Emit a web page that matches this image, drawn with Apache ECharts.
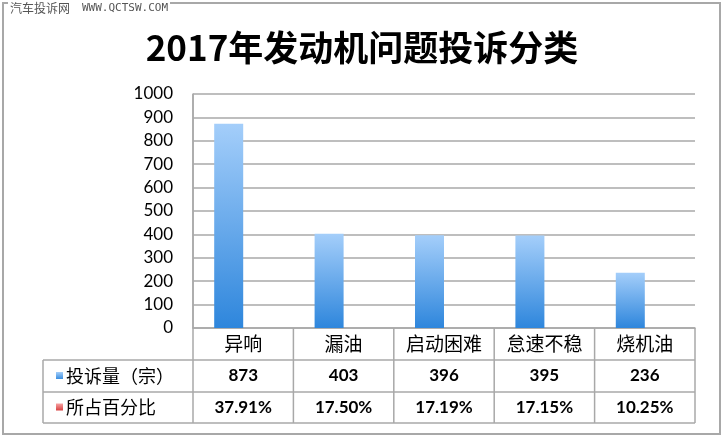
<!DOCTYPE html>
<html><head><meta charset="utf-8">
<script src="https://cdn.jsdelivr.net/npm/echarts@6/dist/echarts.min.js"></script>
<style>html,body{margin:0;padding:0;background:#fff}#c{width:724px;height:437px}</style>
</head><body><div id="c"></div>
<script>
const titleText = '2017年发动机问题投诉分类';
const watermarkCn = '汽车投诉网';
const watermarkUrl = 'WWW.QCTSW.COM';
const categories = ['异响', '漏油', '启动困难', '怠速不稳', '烧机油'];
const seriesNames = ['投诉量（宗）', '所占百分比'];
const complaints = [873, 403, 396, 395, 236];
const shares = [37.91, 17.50, 17.19, 17.15, 10.25];
const yMin = 0, yMax = 1000, yStep = 100;

const CJK = '"Noto Sans CJK SC", sans-serif';
const NUM = 'Lato, "Noto Sans", sans-serif';
const GRID = { left: 193, right: 29, top: 94, bottom: 109 };
const ROW = [328, 360, 392, 423];
const TABLE_LEFT = 43;
const LINE = '#a8a8a8';

const chart = echarts.init(document.getElementById('c'), null, { renderer: 'canvas' });
chart.setOption({
  animation: false,
  backgroundColor: '#fff',
  title: {
    text: titleText, left: 'center', top: 25,
    textStyle: { fontFamily: CJK, fontSize: 35, fontWeight: 'bold', color: '#000' }
  },
  grid: GRID,
  xAxis: {
    type: 'category', data: categories,
    axisLine: { show: true, lineStyle: { color: LINE, width: 1.5 } },
    axisTick: { show: false },
    axisLabel: { fontFamily: CJK, fontSize: 19, color: '#000', margin: 16, verticalAlign: 'middle' }
  },
  yAxis: {
    type: 'value', min: yMin, max: yMax, interval: yStep,
    axisLine: { show: true, lineStyle: { color: LINE, width: 1.5 } },
    axisTick: { show: false },
    axisLabel: { fontFamily: NUM, fontSize: 17, color: '#000', margin: 20, formatter: v => String(v) },
    splitLine: { lineStyle: { color: LINE, width: 1.5 } }
  },
  series: [
    {
      name: seriesNames[0], type: 'bar', data: complaints, barWidth: 29, barGap: '0%',
      itemStyle: { color: new echarts.graphic.LinearGradient(0, 0, 0, 1, [
        { offset: 0, color: '#a4cefa' }, { offset: 1, color: '#2e86dc' }]) }
    },
    {
      name: seriesNames[1], type: 'bar', data: shares.map(v => v / 100), barWidth: 29,
      itemStyle: { color: new echarts.graphic.LinearGradient(0, 0, 0, 1, [
        { offset: 0, color: '#f7a3a3' }, { offset: 1, color: '#d83c3c' }]) }
    }
  ]
});

// Build data table underneath from the axis geometry
const g = [];
const centers = categories.map((c, i) => chart.convertToPixel({ xAxisIndex: 0 }, i));
const band = centers.length > 1 ? centers[1] - centers[0] : 100;
const bounds = [centers[0] - band / 2].concat(centers.map(c => c + band / 2));
const plotLeft = bounds[0], plotRight = bounds[bounds.length - 1];
const topY = chart.convertToPixel({ yAxisIndex: 0 }, yMax);

function line(x1, y1, x2, y2) {
  g.push({ type: 'line', shape: { x1, y1, x2, y2 }, style: { stroke: LINE, lineWidth: 1.5 }, silent: true });
}
line(plotLeft, topY, plotLeft, ROW[3]);
bounds.slice(1).forEach(x => line(x, ROW[0], x, ROW[3]));
line(TABLE_LEFT, ROW[1], TABLE_LEFT, ROW[3]);
[ROW[1], ROW[2], ROW[3]].forEach(y => line(TABLE_LEFT, y, plotRight, y));

const rowsData = [complaints.map(String), shares.map(v => v.toFixed(2) + '%')];
const keyColors = [['#a4cefa', '#3a8ee0'], ['#f7a3a3', '#d84040']];
rowsData.forEach((vals, r) => {
  const cy = (ROW[r + 1] + ROW[r + 2]) / 2;
  g.push({ type: 'rect', shape: { x: 56, y: cy - 4, width: 7, height: 7 },
    style: { fill: new echarts.graphic.LinearGradient(0, 0, 0, 1, [
      { offset: 0, color: keyColors[r][0] }, { offset: 1, color: keyColors[r][1] }]) }, silent: true });
  g.push({ type: 'text', x: 66, y: cy, style: { text: seriesNames[r], fontFamily: CJK, fontSize: 18,
    fill: '#000', verticalAlign: 'middle', align: 'left' }, silent: true });
  vals.forEach((v, i) => {
    g.push({ type: 'text', x: centers[i], y: cy, style: { text: v, fontFamily: NUM, fontSize: 17,
      fontWeight: 'bold', fill: '#000', verticalAlign: 'middle', align: 'center' }, silent: true });
  });
});
g.push({ type: 'rect', shape: { x: 3, y: 3, width: 717, height: 431 },
  style: { fill: null, stroke: '#a8a8a8', lineWidth: 2 }, silent: true });
g.push({ type: 'rect', shape: { x: 8, y: 0, width: 162, height: 15 }, style: { fill: '#fff' }, silent: true });
g.push({ type: 'text', x: 10, y: 8, style: { text: watermarkCn, fontFamily: CJK, fontSize: 12,
  fill: '#555', verticalAlign: 'middle' }, silent: true });
g.push({ type: 'text', x: 82, y: 8, style: { text: watermarkUrl, fontFamily: '"DejaVu Sans Mono", monospace', fontSize: 11,
  fill: '#555', verticalAlign: 'middle' }, silent: true });

chart.setOption({ graphic: g });
</script>
</body></html>
